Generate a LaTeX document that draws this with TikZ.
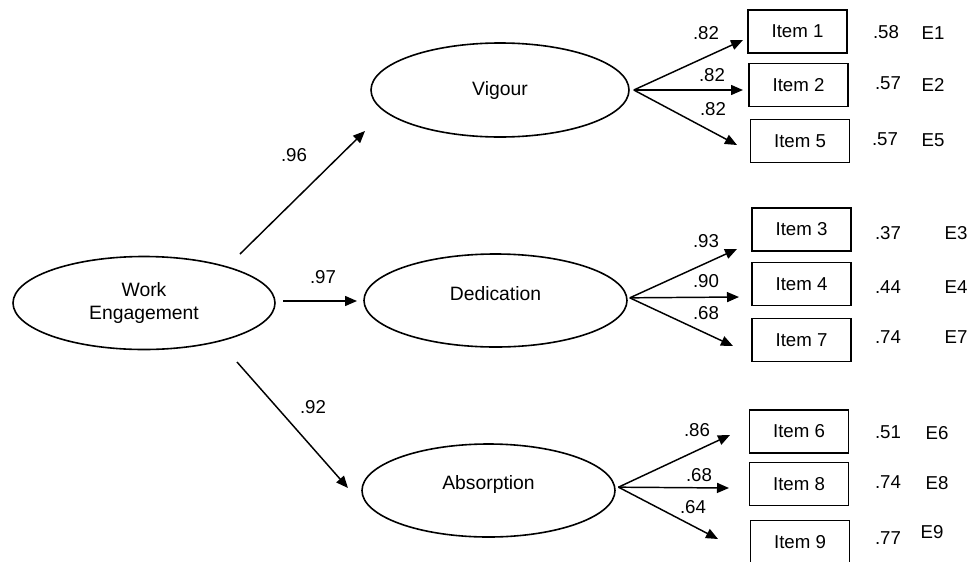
\documentclass[tikz,border=0pt]{standalone}
\usepackage{fontspec}
\setmainfont{Liberation Sans}
\usetikzlibrary{shapes.geometric,arrows.meta}
\begin{document}
\begin{tikzpicture}[x=0.75pt,y=-0.75pt,
  latent/.style={ellipse,draw,line width=1.2pt,inner sep=0pt,font=\fontsize{14.5}{17.3}\selectfont,align=center},
  itembox/.style={rectangle,draw,line width=1.2pt,inner sep=0pt,minimum width=74pt,minimum height=32pt,font=\fontsize{14}{16}\selectfont},
  lbl/.style={inner sep=0pt,font=\fontsize{14}{16}\selectfont},
  arr/.style={-{Triangle[length=9pt,width=7.5pt]},line width=1.1pt}]
\useasboundingbox (0,0) rectangle (971,561);
% latent variables
\node[latent,minimum width=196.5pt,minimum height=69.75pt] (we) at (144,303) {Work\\Engagement};
\node[latent,minimum width=193.5pt,minimum height=70.5pt] (vig) at (500,90) {Vigour};
\node[latent,minimum width=197.25pt,minimum height=69.75pt,text depth=10pt] (ded) at (495.5,300.5) {Dedication};
\node[latent,minimum width=189.75pt,minimum height=69.75pt,text depth=12.5pt] (abs) at (488.5,490.5) {Absorption};
% items
\node[itembox] (i1) at (797.5,31.5) {Item 1};
\node[itembox] (i2) at (798.5,85) {Item 2};
\node[itembox] (i5) at (800,141) {Item 5};
\node[itembox] (i3) at (801.5,229.5) {Item 3};
\node[itembox] (i4) at (801.5,284) {Item 4};
\node[itembox] (i7) at (801.5,340) {Item 7};
\node[itembox] (i6) at (799,431.5) {Item 6};
\node[itembox] (i8) at (799,484) {Item 8};
\node[itembox] (i9) at (800,542) {Item 9};
% coordinates
\coordinate (w1s) at (240,254); \coordinate (w1e) at (365,131);
\coordinate (w2s) at (283,301); \coordinate (w2e) at (357,301);
\coordinate (w3s) at (237,362); \coordinate (w3e) at (348,488);
\coordinate (t1) at (743,40); \coordinate (t2) at (743,90); \coordinate (t5) at (737,145);
\coordinate (t3) at (737,249); \coordinate (t4) at (739,297); \coordinate (t7) at (733,346);
\coordinate (t6) at (730,435); \coordinate (t8) at (729,488); \coordinate (t9) at (718,539);
% second-order paths
\draw[arr] (w1s) -- (w1e);
\draw[arr] (w2s) -- (w2e);
\draw[arr] (w3s) -- (w3e);
\node[lbl] (l96) at (294,155) {.96};
\node[lbl] (l97) at (323,277) {.97};
\node[lbl] (l92) at (313,407) {.92};
% loadings
\draw[arr] ([xshift=3pt]vig.east) -- (t1);
\draw[arr] ([xshift=3pt]vig.east) -- (t2);
\draw[arr] ([xshift=3pt]vig.east) -- (t5);
\draw[arr] ([xshift=1.5pt,yshift=2pt]ded.east) -- (t3);
\draw[arr] ([xshift=1.5pt,yshift=2pt]ded.east) -- (t4);
\draw[arr] ([xshift=1.5pt,yshift=2pt]ded.east) -- (t7);
\draw[arr] ([xshift=2pt,yshift=2.5pt]abs.east) -- (t6);
\draw[arr] ([xshift=2pt,yshift=2.5pt]abs.east) -- (t8);
\draw[arr] ([xshift=2pt,yshift=2.5pt]abs.east) -- (t9);
\node[lbl] (a1) at (706,33) {.82};
\node[lbl] (a2) at (712,75) {.82};
\node[lbl] (a5) at (713,109) {.82};
\node[lbl] (a3) at (706,241) {.93};
\node[lbl] (a4) at (706,281) {.90};
\node[lbl] (a7) at (706,313) {.68};
\node[lbl] (a6) at (697,430) {.86};
\node[lbl] (a8) at (699,475) {.68};
\node[lbl] (a9) at (693,507) {.64};
% error variances
\node[lbl] (v1) at (886,32) {.58};
\node[lbl] (v2) at (888,83) {.57};
\node[lbl] (v5) at (885,139) {.57};
\node[lbl] (v3) at (888,233) {.37};
\node[lbl] (v4) at (888,287) {.44};
\node[lbl] (v7) at (888,337) {.74};
\node[lbl] (v6) at (888,432) {.51};
\node[lbl] (v8) at (888,482) {.74};
\node[lbl] (v9) at (888,538) {.77};
% error labels
\node[lbl] (e1) at (933,33) {E1};
\node[lbl] (e2) at (933,85) {E2};
\node[lbl] (e5) at (933,140) {E5};
\node[lbl] (e3) at (956,233) {E3};
\node[lbl] (e4) at (956,287) {E4};
\node[lbl] (e7) at (956,337) {E7};
\node[lbl] (e6) at (937,433) {E6};
\node[lbl] (e8) at (937,483) {E8};
\node[lbl] (e9) at (932,532) {E9};
\end{tikzpicture}
\end{document}
